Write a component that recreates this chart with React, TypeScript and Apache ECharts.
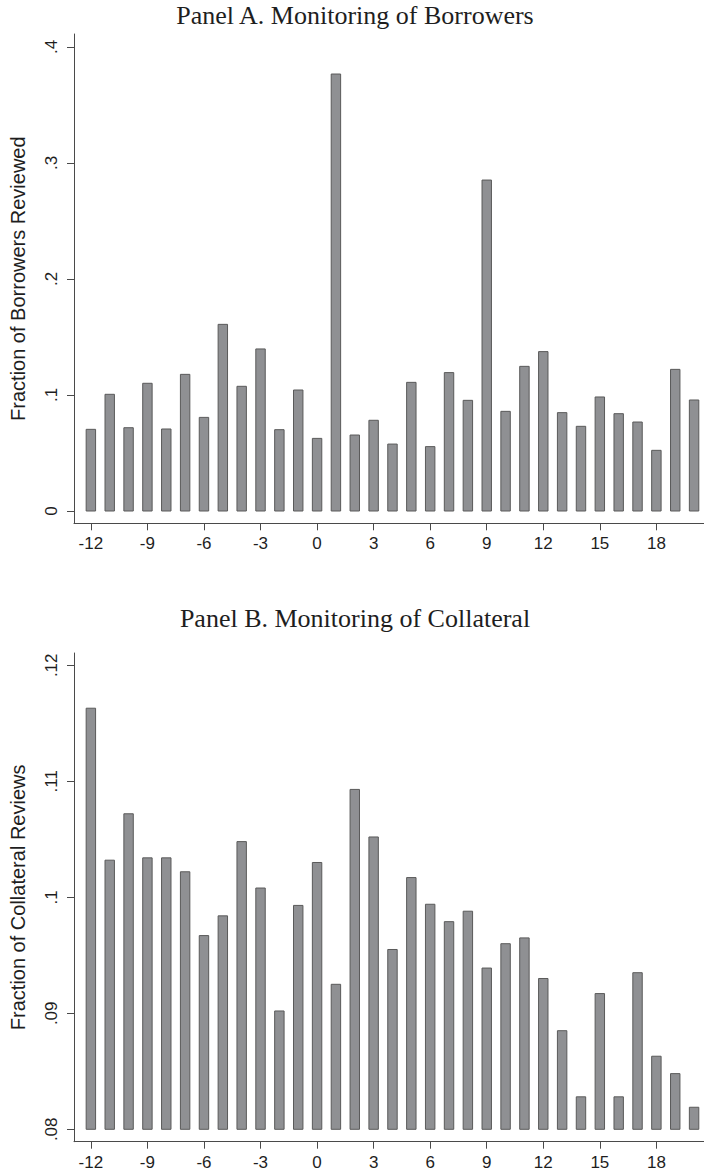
import React, { useEffect, useRef } from "react";
import * as echarts from "echarts";

const periods = [-12, -11, -10, -9, -8, -7, -6, -5, -4, -3, -2, -1, 0, 1, 2, 3, 4, 5, 6, 7, 8, 9, 10, 11, 12, 13, 14, 15, 16, 17, 18, 19, 20];

const borrowersReviewed = [
  0.0704, 0.1006, 0.0718, 0.1101, 0.0707, 0.1178, 0.0807, 0.1609, 0.1075, 0.1397, 0.0701,
  0.1043, 0.0626, 0.3767, 0.0655, 0.0782, 0.0577, 0.1109, 0.0555, 0.1193, 0.0954, 0.2853,
  0.0859, 0.1247, 0.1374, 0.0848, 0.073, 0.0983, 0.0839, 0.0767, 0.0523, 0.1221, 0.0957,
];

const collateralReviews = [
  0.1163, 0.1032, 0.1072, 0.1034, 0.1034, 0.1022, 0.0967, 0.0984, 0.1048, 0.1008, 0.0902,
  0.0993, 0.103, 0.0925, 0.1093, 0.1052, 0.0955, 0.1017, 0.0994, 0.0979, 0.0988, 0.0939,
  0.096, 0.0965, 0.093, 0.0885, 0.0828, 0.0917, 0.0828, 0.0935, 0.0863, 0.0848, 0.0819,
];

const xTicks = [-12, -9, -6, -3, 0, 3, 6, 9, 12, 15, 18];
const yTicksA = [0, 0.1, 0.2, 0.3, 0.4];
const yTicksB = [0.08, 0.09, 0.1, 0.11, 0.12];

const titleA = "Panel A. Monitoring of Borrowers";
const titleB = "Panel B. Monitoring of Collateral";
const yNameA = "Fraction of Borrowers Reviewed";
const yNameB = "Fraction of Collateral Reviews";

const baseA = 0;
const baseB = 0.08;

const SANS = "'Liberation Sans', Arial, Helvetica, sans-serif";
const SERIF = "'Liberation Serif', 'Times New Roman', serif";
const TEXT = "#1e1e1e";
const AXIS = "#4a4a4a";
const FILL = "#8f9093";
const EDGE = "#5a5a5a";

const fmt = (v: number) => (v === 0 ? "0" : String(v).replace(/^0\./, "."));

function makeBars(base: number) {
  return (params: any, api: any) => {
    const x = api.value(0);
    const y = api.value(1);
    const top = api.coord([x, y]);
    const bottom = api.coord([x, base]);
    const w = api.size([1, 0])[0] * 0.5;
    return {
      type: "rect",
      shape: { x: top[0] - w / 2, y: top[1], width: w, height: bottom[1] - top[1] },
      style: { fill: FILL, stroke: EDGE, lineWidth: 1 },
    };
  };
}

function xAxisCfg(gridIndex: number) {
  return {
    type: "value",
    gridIndex,
    min: -12.895,
    max: 20.526,
    axisLine: { show: true, onZero: false, lineStyle: { color: AXIS, width: 1 } },
    axisTick: { show: true, length: 7, customValues: xTicks, lineStyle: { color: AXIS } },
    axisLabel: {
      show: true,
      customValues: xTicks,
      formatter: (v: number) => String(v),
      fontFamily: SANS,
      fontSize: 17,
      color: TEXT,
      margin: 12,
    },
    splitLine: { show: false },
  };
}

function yAxisCfg(gridIndex: number, min: number, max: number, ticks: number[], name: string) {
  return {
    type: "value",
    gridIndex,
    min,
    max,
    name,
    nameLocation: "middle",
    nameGap: 46,
    nameTextStyle: { fontFamily: SANS, fontSize: 20, color: TEXT },
    axisLine: { show: true, onZero: false, lineStyle: { color: AXIS, width: 1 } },
    axisTick: { show: true, length: 7, customValues: ticks, lineStyle: { color: AXIS } },
    axisLabel: {
      show: true,
      customValues: ticks,
      rotate: 90,
      formatter: fmt,
      fontFamily: SANS,
      fontSize: 17,
      color: TEXT,
      margin: 14,
    },
    splitLine: { show: false },
  };
}

export default function App() {
  const ref = useRef<HTMLDivElement>(null);

  useEffect(() => {
    if (!ref.current) return;
    const chart = echarts.init(ref.current, null, { renderer: "svg" });
    const dataA = periods.map((p, i) => [p, borrowersReviewed[i]]);
    const dataB = periods.map((p, i) => [p, collateralReviews[i]]);
    chart.setOption({
      animation: false,
      backgroundColor: "#ffffff",
      title: [
        {
          text: titleA,
          left: 350,
          textAlign: "center",
          top: -3,
          textStyle: { fontFamily: SERIF, fontSize: 26, fontWeight: "normal", color: TEXT },
        },
        {
          text: titleB,
          left: 350,
          textAlign: "center",
          top: 600,
          textStyle: { fontFamily: SERIF, fontSize: 26, fontWeight: "normal", color: TEXT },
        },
      ],
      grid: [
        { left: 69, width: 635, top: 34, height: 489.3 },
        { left: 69, width: 635, top: 653, height: 488.7 },
      ],
      xAxis: [xAxisCfg(0), xAxisCfg(1)],
      yAxis: [
        yAxisCfg(0, -0.0106, 0.4112, yTicksA, yNameA),
        yAxisCfg(1, 0.078931, 0.12106, yTicksB, yNameB),
      ],
      series: [
        {
          type: "custom",
          xAxisIndex: 0,
          yAxisIndex: 0,
          encode: { x: 0, y: 1 },
          data: dataA,
          renderItem: makeBars(baseA),
        },
        {
          type: "custom",
          xAxisIndex: 1,
          yAxisIndex: 1,
          encode: { x: 0, y: 1 },
          data: dataB,
          renderItem: makeBars(baseB),
        },
      ],
    });
    return () => chart.dispose();
  }, []);

  return (
    <div
      ref={ref}
      style={{ position: "absolute", left: 0, top: 0, width: 704, height: 1176 }}
    />
  );
}
